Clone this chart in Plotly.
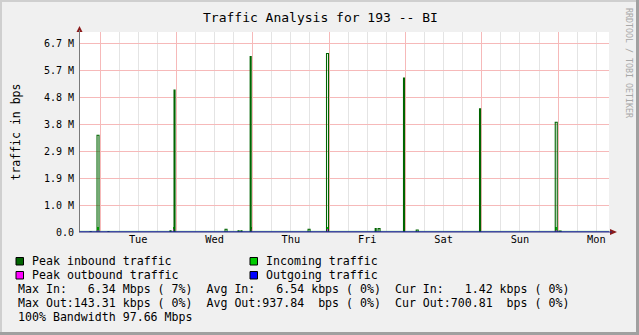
import plotly.graph_objects as go

# ---------------- data ----------------
days = ["Tue", "Wed", "Thu", "Fri", "Sat", "Sun", "Mon"]
x_start_hour = -6.29          # hours relative to Tue 00:00
x_end_hour = 160.0

y_tickvals = [0, 0.96e6, 1.92e6, 2.88e6, 3.84e6, 4.80e6, 5.76e6, 6.72e6]
y_ticktext = ["0.0", "1.0 M", "1.9 M", "2.9 M", "3.8 M", "4.8 M", "5.7 M", "6.7 M"]
y_top = 7.148e6

# Peak inbound traffic (start hour, duration hours, bps)
peak_in_hour = [-0.94, 23.27, 47.2, 71.2, 95.4, 119.3, 143.1,
                -3.1, 2.5, 22.0, 39.3, 43.4, 44.3, 65.4, 86.5, 87.4, 99.4, 144.3]
peak_in_dur = [0.63, 0.32, 0.32, 0.63, 0.32, 0.32, 0.63,
               0.32, 0.32, 0.32, 0.63, 0.32, 0.32, 0.63, 0.32, 0.63, 0.63, 0.63]
peak_in_bps = [3.46e6, 5.07e6, 6.27e6, 6.38e6, 5.50e6, 4.40e6, 3.92e6,
               0.02e6, 0.02e6, 0.04e6, 0.10e6, 0.04e6, 0.04e6, 0.10e6, 0.12e6, 0.12e6, 0.07e6, 0.03e6]

# Incoming traffic (average)
in_hour = [-0.85, 23.25, 47.2, 71.3, 95.4, 119.3, 143.2]
in_dur = [0.45, 0.32, 0.32, 0.45, 0.32, 0.32, 0.45]
in_bps = [0.19e6, 0.19e6, 0.17e6, 0.19e6, 0.18e6, 0.18e6, 0.19e6]
in_base_bps = 0.025e6

# Peak outbound traffic
peak_out_hour = [-0.85, 23.25, 47.2, 71.3, 95.4, 119.3, 143.2]
peak_out_dur = [0.45, 0.32, 0.32, 0.45, 0.32, 0.32, 0.45]
peak_out_bps = [0.07e6, 0.10e6, 0.11e6, 0.10e6, 0.06e6, 0.04e6, 0.07e6]

# Outgoing traffic (average)
out_bps = 0.0

title = "Traffic Analysis for 193 -- BI"
y_title = "traffic in bps"
side_text = "RRDTOOL / TOBI OETIKER"
legend_items = [("Peak inbound traffic", "#006400"), ("Incoming traffic", "#00CC00"),
                ("Peak outbound traffic", "#FF00FF"), ("Outgoing traffic", "#0000FF")]
stats_lines = [
    "Max In:   6.34 Mbps ( 7%)  Avg In:   6.54 kbps ( 0%)  Cur In:   1.42 kbps ( 0%)",
    "Max Out:143.31 kbps ( 0%)  Avg Out:937.84  bps ( 0%)  Cur Out:700.81  bps ( 0%)",
    "100% Bandwidth 97.66 Mbps",
]

# ---------------- layout geometry ----------------
W, H = 639, 335
L, R, T, B = 80, 30, 32, 103
PW, PH = W - L - R, H - T - B


def px(x):
    return (x - L) / PW


def py(y):
    return (H - B - y) / PH


MONO = "DejaVu Sans Mono"
fig = go.Figure()

# incoming baseline + bars
fig.add_trace(go.Scatter(x=[x_start_hour, x_end_hour], y=[in_base_bps, in_base_bps],
                         mode="lines", line=dict(color="#7ED77E", width=1),
                         hoverinfo="skip", showlegend=False))
fig.add_trace(go.Bar(x=[h + d / 2 for h, d in zip(in_hour, in_dur)], y=in_bps,
                     width=in_dur, marker=dict(color="#00CC00", line=dict(width=0)),
                     showlegend=False))

# peak inbound step segments
sx, sy = [], []
for h, d, v in zip(peak_in_hour, peak_in_dur, peak_in_bps):
    sx += [h, h, h + d, h + d, None]
    sy += [0, v, v, 0, None]
fig.add_trace(go.Scatter(x=sx, y=sy, mode="lines", connectgaps=False,
                         line=dict(color="#006400", width=1.1),
                         hoverinfo="skip", showlegend=False))

# peak outbound
fig.add_trace(go.Bar(x=[h + d / 2 for h, d in zip(peak_out_hour, peak_out_dur)], y=peak_out_bps,
                     width=peak_out_dur, marker=dict(color="#FF00FF", line=dict(width=0)),
                     showlegend=False))

# outgoing
fig.add_trace(go.Scatter(x=[x_start_hour, x_end_hour], y=[out_bps, out_bps], mode="lines",
                         line=dict(color="#0000FF", width=1), hoverinfo="skip", showlegend=False))

shapes = []
# outer border
shapes += [
    dict(type="rect", xref="paper", yref="paper", x0=px(0), x1=px(W), y0=py(0), y1=py(2),
         fillcolor="#CFCFCF", line=dict(width=0), layer="above"),
    dict(type="rect", xref="paper", yref="paper", x0=px(0), x1=px(2), y0=py(0), y1=py(H),
         fillcolor="#CFCFCF", line=dict(width=0), layer="above"),
    dict(type="rect", xref="paper", yref="paper", x0=px(W - 3), x1=px(W), y0=py(0), y1=py(H),
         fillcolor="#A0A0A0", line=dict(width=0), layer="above"),
    dict(type="rect", xref="paper", yref="paper", x0=px(0), x1=px(W), y0=py(H - 3), y1=py(H),
         fillcolor="#A0A0A0", line=dict(width=0), layer="above"),
]
# axis arrows
shapes += [
    dict(type="path", xref="paper", yref="paper",
         path=f"M {px(76.5)} {py(32)} L {px(82.5)} {py(32)} L {px(79.5)} {py(26)} Z",
         fillcolor="#8B1A1A", line=dict(width=0), layer="above"),
    dict(type="path", xref="paper", yref="paper",
         path=f"M {px(610)} {py(229)} L {px(610)} {py(235)} L {px(617)} {py(232)} Z",
         fillcolor="#8B1A1A", line=dict(width=0), layer="above"),
    dict(type="line", xref="paper", yref="paper", x0=px(79.5), x1=px(79.5), y0=py(232), y1=py(30),
         line=dict(color="#7A7A7A", width=1), layer="above"),
    dict(type="line", xref="paper", yref="paper", x0=px(79), x1=px(612), y0=py(232), y1=py(232),
         line=dict(color="#2E2A7A", width=1), layer="above"),
]
# legend squares
sq = [(16, 257.5), (250, 257.5), (16, 271.5), (250, 271.5)]
for (x0, y0), (_, col) in zip(sq, legend_items):
    shapes.append(dict(type="rect", xref="paper", yref="paper", x0=px(x0), x1=px(x0 + 7.5),
                       y0=py(y0), y1=py(y0 + 7.5), fillcolor=col,
                       line=dict(color="#000000", width=1)))

annotations = [
    dict(text=title, xref="paper", yref="paper", x=px(320), y=py(17), showarrow=False,
         xanchor="center", yanchor="middle", font=dict(family=MONO, size=13, color="#000")),
    dict(text=y_title, xref="paper", yref="paper", x=px(15.5), y=py(132), showarrow=False,
         textangle=-90, xanchor="center", yanchor="middle",
         font=dict(family=MONO, size=11.5, color="#000")),
    dict(text=side_text, xref="paper", yref="paper", x=px(629), y=py(63), showarrow=False,
         textangle=90, xanchor="center", yanchor="middle",
         font=dict(family=MONO, size=8.3, color="#A8A8A8")),
]
leg_pos = [(30, 261), (264, 261), (30, 275), (264, 275)]
for (x0, y0), (lbl, _) in zip(leg_pos, legend_items):
    annotations.append(dict(text=lbl, xref="paper", yref="paper", x=px(x0), y=py(y0),
                            showarrow=False, xanchor="left", yanchor="middle",
                            font=dict(family=MONO, size=11.6, color="#000")))
for i, line in enumerate(stats_lines):
    annotations.append(dict(text=line, xref="paper", yref="paper", x=px(16), y=py(289 + 14 * i),
                            showarrow=False, xanchor="left", yanchor="middle",
                            font=dict(family=MONO, size=11.6, color="#000")))

fig.update_layout(
    width=W, height=H, margin=dict(l=L, r=R, t=T, b=B, pad=0),
    paper_bgcolor="#F0F0F0", plot_bgcolor="#FFFFFF",
    barmode="overlay", bargap=0, showlegend=False,
    shapes=shapes, annotations=annotations,
    xaxis=dict(range=[x_start_hour, x_end_hour], tick0=0, dtick=24, showgrid=True,
               gridcolor="#F6B9B9", gridwidth=1, showticklabels=False, ticks="",
               zeroline=False, showline=False,
               minor=dict(tick0=0, dtick=6, showgrid=True, gridcolor="#E4E4E4", gridwidth=1)),
    xaxis2=dict(overlaying="x", matches="x", range=[x_start_hour, x_end_hour], side="bottom",
                tickmode="array", tickvals=[12 + 24 * i for i in range(len(days))], ticktext=days,
                showgrid=False, zeroline=False, showline=False, ticks="", anchor="y",
                tickfont=dict(family=MONO, size=10.3, color="#000")),
    yaxis=dict(range=[0, y_top], tickmode="array", tickvals=y_tickvals, ticktext=y_ticktext,
               showgrid=True, gridcolor="#F6B9B9", gridwidth=1, zeroline=False, showline=False,
               ticks="", ticklabelstandoff=5,
               tickfont=dict(family=MONO, size=10, color="#000")),
)
fig.add_trace(go.Scatter(x=[None], y=[None], xaxis="x2", yaxis="y", showlegend=False,
                         hoverinfo="skip"))

fig.write_html("out.html")
